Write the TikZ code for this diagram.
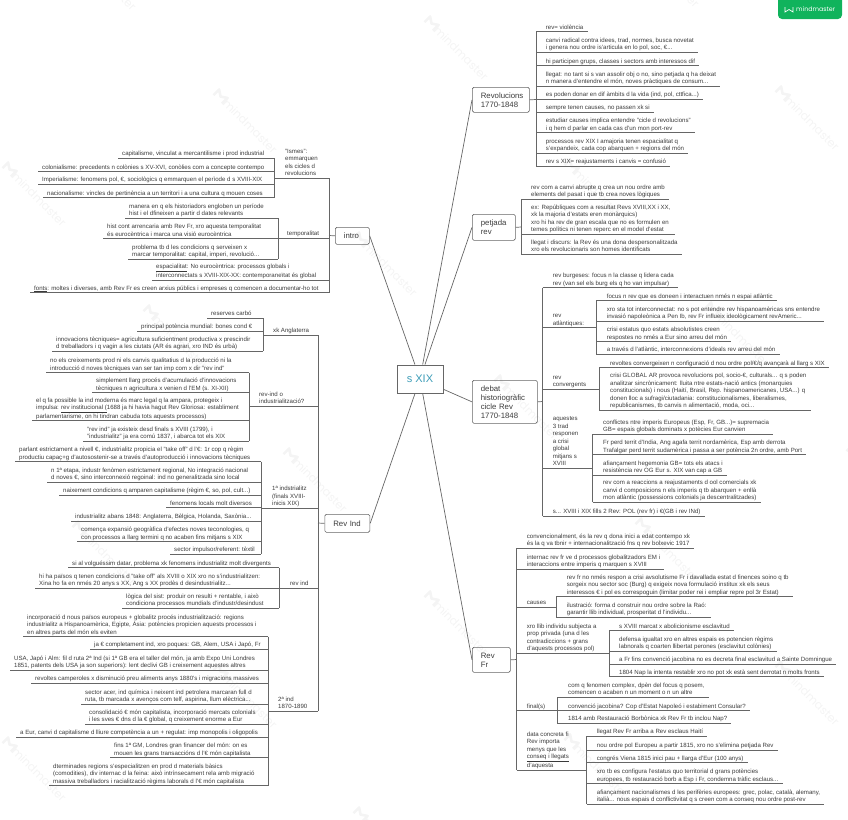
\documentclass[tikz,border=0pt]{standalone}
\usepackage{fontspec}
\setmainfont{Liberation Sans}
\newfontfamily\mmfont{Poppins}
\definecolor{inkgray}{HTML}{3A3A3A}
\definecolor{linegray}{HTML}{666666}
\definecolor{rootblue}{HTML}{3E9DB8}
\definecolor{mmgreen}{HTML}{10B35C}
\tikzset{
	leaf/.style={anchor=south west, align=left, inner xsep=4pt, inner ysep=0.8pt, text depth=1.5pt, text=inkgray, font=\fontsize{6.1}{7.5}\selectfont},
	topic/.style={draw=linegray, line width=0.7pt, rounded corners=1.5pt, anchor=north west, align=left, inner xsep=8.5pt, inner ysep=1pt, text=inkgray, font=\fontsize{7.8}{9}\selectfont},
	root/.style={draw=linegray, line width=1pt, minimum width=46pt, minimum height=28pt, text=rootblue, font=\fontsize{11}{13}\selectfont},
	tline/.style={draw=linegray, line width=0.7pt},
	wmark/.pic={
		\draw[gray!9, line width=2.6pt, line join=round](-42,4)--(-42,-4)--(-36,0)--(-30,-4)--(-30,4);
		\node[transform shape, gray!9, font=\mmfont\fontsize{11.5}{14}\selectfont] at (6,0){mindmaster};
	}
}
\begin{document}
\begin{tikzpicture}[x=1pt, y=-1pt]
		\useasboundingbox (0,0) rectangle (848,819);
		% watermark
		\pic[rotate=-45] at (35,195){wmark};
		\pic[rotate=-45] at (246,122){wmark};
		\pic[rotate=-45] at (457,49){wmark};
		\pic[rotate=-45] at (668,-24){wmark};
		\pic[rotate=-45] at (105,-21){wmark};
		\pic[rotate=-45] at (176,338){wmark};
		\pic[rotate=-45] at (386,265){wmark};
		\pic[rotate=-45] at (597,192){wmark};
		\pic[rotate=-45] at (808,119){wmark};
		\pic[rotate=-45] at (105,554){wmark};
		\pic[rotate=-45] at (316,481){wmark};
		\pic[rotate=-45] at (527,408){wmark};
		\pic[rotate=-45] at (738,335){wmark};
		\pic[rotate=-45] at (35,770){wmark};
		\pic[rotate=-45] at (246,697){wmark};
		\pic[rotate=-45] at (457,624){wmark};
		\pic[rotate=-45] at (668,551){wmark};
		\pic[rotate=-45] at (879,478){wmark};
		\pic[rotate=-45] at (386,840){wmark};
		\pic[rotate=-45] at (597,767){wmark};
		\pic[rotate=-45] at (808,694){wmark};
		% badge
		\fill[mmgreen](778,0)--(842,0)[rounded corners=4pt]--(842,19)--(778,19)[sharp corners]--cycle;
		\draw[white, line width=0.7pt](785,7)--(785,12)--(789,9.5)--(793,12)--(793,7);
		\node(badge)[text=white, anchor=west, inner sep=0pt, font=\mmfont\fontsize{6.3}{8}\selectfont] at (796,9.5){mindmaster};
		% main topics
		\node(sxix)[root] at (420,379){s XIX};
		\node(intro)[topic, text width=17pt, minimum height=17pt] at (335,227){intro};
		\node(revind)[topic, text width=28pt, minimum height=18pt] at (324.5,514){Rev Ind};
		\node(revol)[topic, text width=40pt, minimum height=25pt] at (472,87){Revolucions\\1770-1848};
		\node(petj)[topic, text width=26pt, minimum height=26pt] at (472,214){petjada\\rev};
		\node(debat)[topic, text width=48pt, minimum height=43pt] at (472,380){debat\\historiogràfic\\cicle Rev\\1770-1848};
		\node(revfr)[topic, text width=21pt, minimum height=25pt] at (472,647){Rev\\Fr};
		\draw[tline](sxix) to (intro.east);
		\draw[tline](sxix) to (revind.east);
		\draw[tline](sxix) to (revol.west);
		\draw[tline](sxix) to (petj.west);
		\draw[tline](sxix) to (debat.west);
		\draw[tline](sxix) to (revfr.west);
		% intro
		\coordinate(introbar) at (329,235.5);
		\coordinate(ismesbar) at (274,178);
		\coordinate(tempbar) at (278,238);
		\node(ismes)[leaf] at (281,178){"Ismes":\\emmarquen\\els cicles d\\revolucions};
		\node(capit)[leaf] at (118,158.3){capitalisme, vinculat a mercantilisme i prod industrial};
		\node(colon)[leaf] at (38,171.7){colonialisme: precedents n colònies s XV-XVI, conòlies com a concepte contempo};
		\node(imper)[leaf] at (38,184.3){Imperialisme: fenomens pol, €, sociològics q emmarquen el perìode d s XVIII-XIX};
		\node(nacio)[leaf] at (43,197.7){nacionalisme: vincles de pertinència a un territori i a una cultura q mouen coses};
		\node(temp)[leaf] at (283,238.3){temporalitat};
		\node(maner)[leaf] at (125,218.3){manera en q els historiadors engloben un període\\hist i el dfineixen a partir d dates relevants};
		\node(histc)[leaf] at (103,238.7){hist cont arrencaria amb Rev Fr, xro aquesta temporalitat\\és eurocèntrica i marca una visió eurocèntrica};
		\node(probl)[leaf] at (128,259){problema tb d les condicions q serveixen x\\marcar temporalitat: capital, imperi, revolució...};
		\node(espac)[leaf] at (152,280){\underline{espacialitat}: No eurocèntrica: processos globals i\\interconnectats s XVIII-XIX-XX: contemporaneïtat és global};
		\node(fonts)[leaf] at (30,292.7){\underline{fonts}: moltes i diverses, amb Rev Fr es creen arxius públics i empreses q comencen a documentar-ho tot};
		\draw[tline](intro.west) to (introbar);
		\draw[tline](introbar |- ismes.south) to (introbar |- fonts.south);
		\draw[tline](ismesbar |- ismes.south) to (introbar |- ismes.south);
		\draw[tline](tempbar |- temp.south) to (introbar |- temp.south);
		\draw[tline](espac.south west) to (introbar |- espac.south);
		\draw[tline](fonts.south west) to (introbar |- fonts.south);
		\draw[tline](ismesbar |- capit.south) to (ismesbar |- nacio.south);
		\draw[tline](capit.south west) to (ismesbar |- capit.south);
		\draw[tline](colon.south west) to (ismesbar |- colon.south);
		\draw[tline](imper.south west) to (ismesbar |- imper.south);
		\draw[tline](nacio.south west) to (ismesbar |- nacio.south);
		\draw[tline](tempbar |- maner.south) to (tempbar |- probl.south);
		\draw[tline](maner.south west) to (tempbar |- maner.south);
		\draw[tline](histc.south west) to (tempbar |- histc.south);
		\draw[tline](probl.south west) to (tempbar |- probl.south);
		% Rev Ind
		\coordinate(indbar) at (318,523);
		\coordinate(angbar) at (263,335);
		\coordinate(qbar) at (249,406);
		\coordinate(firstbar) at (261,508);
		\coordinate(rindbar) at (279,588);
		\coordinate(secbar) at (268,711);
		\node(ang)[leaf] at (269,335){xk Anglaterra};
		\node(carbo)[leaf] at (207,318.3){reserves carbó};
		\node(poten)[leaf] at (137,331){principal potència mundial: bones cond €};
		\node(innov)[leaf] at (52,351){innovacions tècniques= agricultura suficientment productiva x prescindir\\d treballadors i q vagin a les ciutats (AR és agrari, xro IND és urbà)};
		\node(quest)[leaf] at (255,406){rev-ind o\\industrialització?};
		\node(creix)[leaf] at (46,372.7){no els creixements prod ni els canvis qualitatius d la producció ni la\\introducció d noves tècniques van ser tan imp com x dir "rev ind"};
		\node(simpl)[leaf] at (92,392.7){simplement llarg procés d'acumulació d'innovacions\\tècniques n agricultura x venien d l'EM (s. XI-XII)};
		\node(legal)[leaf] at (32,420.7){el q fa possible la ind moderna és marc legal q la ampara, protegeix i\\impulsa: \underline{rev institucional (}1688 ja hi havia hagut Rev Gloriosa: establiment\\parlamentarisme, on hi tindran cabuda tots aquests processos)};
		\node(exist)[leaf] at (83,441){"rev ind" ja existeix desd finals s XVIII (1799), i\\"industrialitz" ja era comú 1837, i abarca tot els XIX};
		\node(first)[leaf] at (268,508){1ª indstrialitz\\(finals XVIII-\\inicis XIX)};
		\node(parla)[leaf] at (15,461.7){parlant estrictament a nivell €, industrialitz propicia el "take off" d l'€: 1r cop q règim\\productiu capaç+g d'autosostenir-se a través d'autoproducció i innovacions tècniques};
		\node(etapa)[leaf] at (47,482){n 1ª etapa, industr fenòmen estrictament regional, No integració nacional\\d noves €, sino interconnexió regoinal: ind no generalitzada sino local};
		\node(naix)[leaf] at (59,495){naixement condicions q amparen capitalisme (règim €, so, pol, cult...)};
		\node(local)[leaf] at (166,507.7){fenomens locals molt diversos};
		\node(abans)[leaf] at (71,521){industrialitz abans 1848: Anglaterra, Bèlgica, Holanda, Saxònia...};
		\node(expan)[leaf] at (77,541.7){comença expansió geogràfica d'efectes noves teconologies, q\\con processos a llarg termini q no acaben fins mitjans s XIX};
		\node(impul)[leaf] at (170,554.3){sector impulsor/referent: tèxtil};
		\node(rind)[leaf] at (286,588){rev ind};
		\node(datar)[leaf] at (68,567.7){si al volguéssim datar, problema xk fenomens industrialitz molt divergents};
		\node(takeo)[leaf] at (35,588){hi ha països q tenen condicions d "take off" als XVIII o XIX xro no s'industrialitzen:\\Xina ho fa en nmés 20 anys s XX, Ang s XX prodès d desindustrialitz...};
		\node(logic)[leaf] at (122,608.3){lògica del sist: produir on resulti + rentable, i això\\condiciona processos mundials d'industr/desindust};
		\node(sec)[leaf] at (274,711){2ª ind\\1870-1890};
		\node(incor)[leaf] at (23,636.7){incorporació d nous països europeus + globalitz procés industrialització: regions\\industrialitz a Hispanoamèrica, Egipte, Àsia: potències propicien aquests processos i\\en altres parts del món els eviten};
		\node(compl)[leaf] at (90,649.3){ja € completament ind, xro poques: GB, Alem, USA i Japó, Fr};
		\node(usa)[leaf] at (10,670){USA, Japó i Alm: fil d ruta 2ª Ind (si 1ª GB era el taller del món, ja amb Expo Uni Londres\\1851, patents dels USA ja son superiors): lent declivi GB i creixement aquestes altres};
		\node(revol2)[leaf] at (31,683){revoltes camperoles x disminució preu aliments anys 1880's i migracions massives};
		\node(acer)[leaf] at (81,704){sector acer, ind química i neixent ind petrolera marcaran full d\\ruta, tb marcada x avenços com telf, aspirina, llum elèctrica...};
		\node(conso)[leaf] at (85,724){consolidació € món capitalista, incorporació mercats colonials\\i les sves € dns d la € global, q creixement enorme a Eur};
		\node(lliure)[leaf] at (16,737){a Eur, canvi d capitalisme d lliure competència a un + regulat: imp monopolis i oligopolis};
		\node(londr)[leaf] at (110,757.7){fins 1ª GM, Londres gran financer del món: on es\\mouen les grans transaccións d l'€ món capitalista};
		\node(dterm)[leaf] at (49,785.7){dterminades regions s'especialitzen en prod d materials bàsics\\(comodities), div internac d la feina: això intrínsecament rela amb migració\\massiva treballadors i racialització règims laborals d l'€ món capitalista};
		\draw[tline](revind.west) to (indbar);
		\draw[tline](indbar |- ang.south) to (indbar |- sec.south);
		\draw[tline](angbar |- ang.south) to (indbar |- ang.south);
		\draw[tline](qbar |- quest.south) to (indbar |- quest.south);
		\draw[tline](firstbar |- first.south) to (indbar |- first.south);
		\draw[tline](rindbar |- rind.south) to (indbar |- rind.south);
		\draw[tline](secbar |- sec.south) to (indbar |- sec.south);
		\draw[tline](angbar |- carbo.south) to (angbar |- innov.south);
		\draw[tline](carbo.south west) to (angbar |- carbo.south);
		\draw[tline](poten.south west) to (angbar |- poten.south);
		\draw[tline](innov.south west) to (angbar |- innov.south);
		\draw[tline](qbar |- creix.south) to (qbar |- exist.south);
		\draw[tline](creix.south west) to (qbar |- creix.south);
		\draw[tline](simpl.south west) to (qbar |- simpl.south);
		\draw[tline](legal.south west) to (qbar |- legal.south);
		\draw[tline](exist.south west) to (qbar |- exist.south);
		\draw[tline](firstbar |- parla.south) to (firstbar |- impul.south);
		\draw[tline](parla.south west) to (firstbar |- parla.south);
		\draw[tline](etapa.south west) to (firstbar |- etapa.south);
		\draw[tline](naix.south west) to (firstbar |- naix.south);
		\draw[tline](local.south west) to (firstbar |- local.south);
		\draw[tline](abans.south west) to (firstbar |- abans.south);
		\draw[tline](expan.south west) to (firstbar |- expan.south);
		\draw[tline](impul.south west) to (firstbar |- impul.south);
		\draw[tline](rindbar |- datar.south) to (rindbar |- logic.south);
		\draw[tline](datar.south west) to (rindbar |- datar.south);
		\draw[tline](takeo.south west) to (rindbar |- takeo.south);
		\draw[tline](logic.south west) to (rindbar |- logic.south);
		\draw[tline](secbar |- incor.south) to (secbar |- dterm.south);
		\draw[tline](incor.south west) to (secbar |- incor.south);
		\draw[tline](compl.south west) to (secbar |- compl.south);
		\draw[tline](usa.south west) to (secbar |- usa.south);
		\draw[tline](revol2.south west) to (secbar |- revol2.south);
		\draw[tline](acer.south west) to (secbar |- acer.south);
		\draw[tline](conso.south west) to (secbar |- conso.south);
		\draw[tline](lliure.south west) to (secbar |- lliure.south);
		\draw[tline](londr.south west) to (secbar |- londr.south);
		\draw[tline](dterm.south west) to (secbar |- dterm.south);
		% Revolucions
		\coordinate(rvbar) at (536,99.5);
		\node(viol)[leaf] at (541.7,31.7){rev= violència};
		\node(canvi)[leaf] at (541.7,52.3){canvi radical contra idees, trad, normes, busca novetat\\i genera nou ordre is'articula en lo pol, soc, €...};
		\node(grups)[leaf] at (541.7,65.7){hi participen grups, classes i sectors amb interessos dif};
		\node(llega)[leaf] at (541.7,86){llegat: no tant si s van assolir obj o no, sino petjada q ha deixat\\n manera d'entendre el món, noves pràctiques de consum...};
		\node(ambit)[leaf] at (541.7,99){es poden donar en dif àmbits d la vida (ind, pol, cttfica...)};
		\node(cause)[leaf] at (541.7,112){sempre tenen causes, no passen xk si};
		\node(cicle)[leaf] at (541.7,132.7){estudiar causes implica entendre "cicle d revolucions"\\i q hem d parlar en cada cas d'un mon port-rev};
		\node(proce)[leaf] at (541.7,153){processos rev XIX I amajoria tenen espacialitat q\\s'expandeix, cada cop abarquen + regions del món};
		\node(reaju)[leaf] at (541.7,166){rev s XIX= reajustaments i canvis = confusió};
		\draw[tline](revol.east) to (rvbar);
		\draw[tline](rvbar |- viol.south) to (rvbar |- reaju.south);
		\draw[tline](rvbar |- viol.south) to (viol.south east);
		\draw[tline](rvbar |- canvi.south) to (canvi.south east);
		\draw[tline](rvbar |- grups.south) to (grups.south east);
		\draw[tline](rvbar |- llega.south) to (llega.south east);
		\draw[tline](rvbar |- ambit.south) to (ambit.south east);
		\draw[tline](rvbar |- cause.south) to (cause.south east);
		\draw[tline](rvbar |- cicle.south) to (cicle.south east);
		\draw[tline](rvbar |- proce.south) to (proce.south east);
		\draw[tline](rvbar |- reaju.south) to (reaju.south east);
		% petjada
		\coordinate(ptbar) at (521,227);
		\node(abrup)[leaf] at (527,199){rev com a canvi abrupte q crea un nou ordre amb\\elements del pasat i que tb crea noves lògiques};
		\node(repub)[leaf] at (527,234.3){ex: Repúbliques com a resultat Revs XVIII,XX i XX,\\xk la majoria d'estats eren monàrquics)\\ xro hi ha rev de gran escala que no es formulen en\\temes polítics ni tenen reperc en el model d'estat};
		\node(disc)[leaf] at (527,254.3){llegat i discurs: la Rev és una dona despersonalitzada\\xro els revolucionaris son homes identificats};
		\draw[tline](petj.east) to (ptbar);
		\draw[tline](ptbar |- abrup.south) to (ptbar |- disc.south);
		\draw[tline](ptbar |- abrup.south) to (abrup.south east);
		\draw[tline](ptbar |- repub.south) to (repub.south east);
		\draw[tline](ptbar |- disc.south) to (disc.south east);
		% debat
		\coordinate(dbbar) at (542.7,401.5);
		\coordinate(atbar) at (596,327.7);
		\coordinate(cvbar) at (599,389.3);
		\coordinate(aqbar) at (592.7,468.3);
		\node(burg)[leaf] at (548.7,287.7){rev burgeses: focus n la classe q lidera cada\\rev (van sel els burg els q ho van impulsar)};
		\node(atl)[leaf] at (548.7,327.7){rev\\atlàntiques:};
		\node(conv)[leaf] at (548.7,389.3){rev\\convergents};
		\node(aqu)[leaf] at (548.7,468.3){aquestes\\3 trad\\responen\\a crisi\\global\\mitjans s\\XVIII};
		\node(fills)[leaf] at (548.7,516){s... XVIII i XIX fills 2 Rev: POL (rev fr) i €(GB i rev INd)};
		\node(focus)[leaf] at (602.7,300.7){focus n rev que es doneen i interactuen nmés n espai atlàntic};
		\node(conne)[leaf] at (602.7,321){xro sta tot interconnectat: no s pot entendre rev hispanoamèricas sns entendre\\invasió napoleònica a Pen Ib, rev Fr influeix ideològicament revAmeric...};
		\node(crisi)[leaf] at (602.7,341.7){crisi estatus quo estats absolutistes creen\\respostes no nmés a Eur sino arreu del món};
		\node(trave)[leaf] at (602.7,354.3){a través d l'atlàntic, interconnexions d'ideals rev arreu del món};
		\node(rvcon)[leaf] at (606,367.7){revoltes convergeixen n configuració d nou ordre pol/€/q avançarà al llarg s XIX};
		\node(globa)[leaf] at (606,410){crisi GLOBAL AR provoca revolucions pol, socio-€, culturals... q s poden\\analitzar sincrònicament: lluita ntre estats-nació antics (monarquies\\constitucionals) i nous (Haití, Brasil, Rep. hispanoamericanes, USA...) q\\donen lloc a sufragi/ciutadania: constitucionalismes, liberalismes,\\republicanismes, tb canvis n alimentació, moda, oci...};
		\node(confl)[leaf] at (599,434){conflictes ntre imperis Europeus (Esp, Fr, GB...)= supremacia\\GB= espais globals dominats x potècies Eur canvien};
		\node(india)[leaf] at (599,454.7){Fr perd territ d'India, Ang agafa territ nordamèrica, Esp amb derrota\\Trafalgar perd territ sudamèrica i passa a ser potència 2n ordre, amb Port};
		\node(hegem)[leaf] at (599,475){afiançament hegemonia GB= tots els atacs i\\resistència rev OG Eur s. XIX van cap a GB};
		\node(reacc)[leaf] at (599,502.3){rev com a reaccions a reajustaments d ool comercials xk\\canvi d composicions n els imperis q tb abarquen + enllà\\mon atlàntic (possessions colonials ja descentralitzades)};
		\draw[tline](debat.east) to (dbbar);
		\draw[tline](dbbar |- burg.south) to (dbbar |- fills.south);
		\draw[tline](dbbar |- burg.south) to (burg.south east);
		\draw[tline](dbbar |- atl.south) to (atbar |- atl.south);
		\draw[tline](dbbar |- conv.south) to (cvbar |- conv.south);
		\draw[tline](dbbar |- aqu.south) to (aqbar |- aqu.south);
		\draw[tline](dbbar |- fills.south) to (fills.south east);
		\draw[tline](atbar |- focus.south) to (atbar |- trave.south);
		\draw[tline](atbar |- focus.south) to (focus.south east);
		\draw[tline](atbar |- conne.south) to (conne.south east);
		\draw[tline](atbar |- crisi.south) to (crisi.south east);
		\draw[tline](atbar |- trave.south) to (trave.south east);
		\draw[tline](cvbar |- rvcon.south) to (cvbar |- globa.south);
		\draw[tline](cvbar |- rvcon.south) to (rvcon.south east);
		\draw[tline](cvbar |- globa.south) to (globa.south east);
		\draw[tline](aqbar |- confl.south) to (aqbar |- reacc.south);
		\draw[tline](aqbar |- confl.south) to (confl.south east);
		\draw[tline](aqbar |- india.south) to (india.south east);
		\draw[tline](aqbar |- hegem.south) to (hegem.south east);
		\draw[tline](aqbar |- reacc.south) to (reacc.south east);
		% Rev Fr
		\coordinate(frbar) at (516.7,659.5);
		\coordinate(cabar) at (556,607);
		\coordinate(llbar) at (609,653.3);
		\coordinate(fibar) at (557.3,710.7);
		\coordinate(dabar) at (586.7,770);
		\node(conven)[leaf] at (522.7,548.3){convencionalment, és la rev q dona inici a edat contempo xk\\és la q va tbnir + internacionalització fns q rev bolxevic 1917};
		\node(inter)[leaf] at (522.7,569){internac rev fr ve d processos globalitzadors EM i\\interaccions entre imperis q marquen s XVIII};
		\node(causa)[leaf] at (522.7,607){causes};
		\node(llib)[leaf] at (522.7,653.3){xro llib individu subjecta a\\prop privada (una d les\\contradiccions + grans\\d'aquests processos pol)};
		\node(final)[leaf] at (522.7,710.7){final(s)};
		\node(data)[leaf] at (522.7,770){data concreta fi\\Rev importa\\menys que les\\\underline{conseq i llegats}\\d'aquesta};
		\node(respon)[leaf] at (562.7,596.7){rev fr no nmés respon a crisi avsolutisme Fr i davallada estat d finences soino q tb\\sorgeix nou sector soc (Burg) q exigeix nova formulació institux xk els seus\\interessos € i pol es correspoguin (limitar poder rei i empliar repre pol 3r Estat)};
		\node(ilust)[leaf] at (562.7,617.3){ilustració: forma d construir nou ordre sobre la Raó:\\garantir llib individual, prosperitat d l'individu...};
		\node(abol)[leaf] at (615,630.7){s XVIII marcat x abolicionisme esclavitud};
		\node(defen)[leaf] at (615,651){defensa igualtat xro en altres espais es potencien règims\\labnorals q coarten llibertat perones (esclavitut colònies)};
		\node(jacob)[leaf] at (615,664.3){a Fr fins convenció jacobina no es decreta final esclavitud a Sainte Domningue};
		\node(napol)[leaf] at (615,676.7){1804 Nap la intenta restablir xro no pot xk està sent derrotat n molts fronts};
		\node(compx)[leaf] at (564,697.3){com q fenomen complex, dpèn del focus q posem,\\comencen o acaben n un moment o n un altre};
		\node(cop)[leaf] at (564,710.7){convenció jacobina? Cop d'Estat Napoleó i estabiment Consular?};
		\node(rest)[leaf] at (564,723.3){1814 amb Restauració Borbònica xk Rev Fr tb inclou Nap?};
		\node(haiti)[leaf] at (592.7,736){llegat Rev Fr arriba a Rev esclaus Haití};
		\node(ordre)[leaf] at (592.7,750){nou ordre pol Europeu a partir 1815, xro no s'elimina petjada Rev};
		\node(vien)[leaf] at (592.7,762.7){congrés Viena 1815 inici pau + llarga d'Eur (100 anys)};
		\node(terr)[leaf] at (592.7,783.7){xro tb es configura l'estatus quo territorial d grans potències\\europees, tb restauració borb a Esp i Fr, condemna tràfic esclaus...};
		\node(nacs)[leaf] at (592.7,804){afiançament nacionalismes d les perifèries europees: grec, polac, català, alemany,\\italià... nous espais d conflictivitat q s creen com a conseq nou ordre post-rev};
		\draw[tline](revfr.east) to (frbar);
		\draw[tline](frbar |- conven.south) to (frbar |- data.south);
		\draw[tline](frbar |- conven.south) to (conven.south east);
		\draw[tline](frbar |- inter.south) to (inter.south east);
		\draw[tline](frbar |- causa.south) to (cabar |- causa.south);
		\draw[tline](frbar |- llib.south) to (llbar |- llib.south);
		\draw[tline](frbar |- final.south) to (fibar |- final.south);
		\draw[tline](frbar |- data.south) to (dabar |- data.south);
		\draw[tline](cabar |- respon.south) to (cabar |- ilust.south);
		\draw[tline](cabar |- respon.south) to (respon.south east);
		\draw[tline](cabar |- ilust.south) to (ilust.south east);
		\draw[tline](llbar |- abol.south) to (llbar |- napol.south);
		\draw[tline](llbar |- abol.south) to (abol.south east);
		\draw[tline](llbar |- defen.south) to (defen.south east);
		\draw[tline](llbar |- jacob.south) to (jacob.south east);
		\draw[tline](llbar |- napol.south) to (napol.south east);
		\draw[tline](fibar |- compx.south) to (fibar |- rest.south);
		\draw[tline](fibar |- compx.south) to (compx.south east);
		\draw[tline](fibar |- cop.south) to (cop.south east);
		\draw[tline](fibar |- rest.south) to (rest.south east);
		\draw[tline](dabar |- haiti.south) to (dabar |- nacs.south);
		\draw[tline](dabar |- haiti.south) to (haiti.south east);
		\draw[tline](dabar |- ordre.south) to (ordre.south east);
		\draw[tline](dabar |- vien.south) to (vien.south east);
		\draw[tline](dabar |- terr.south) to (terr.south east);
		\draw[tline](dabar |- nacs.south) to (nacs.south east);
	\end{tikzpicture}
\end{document}
